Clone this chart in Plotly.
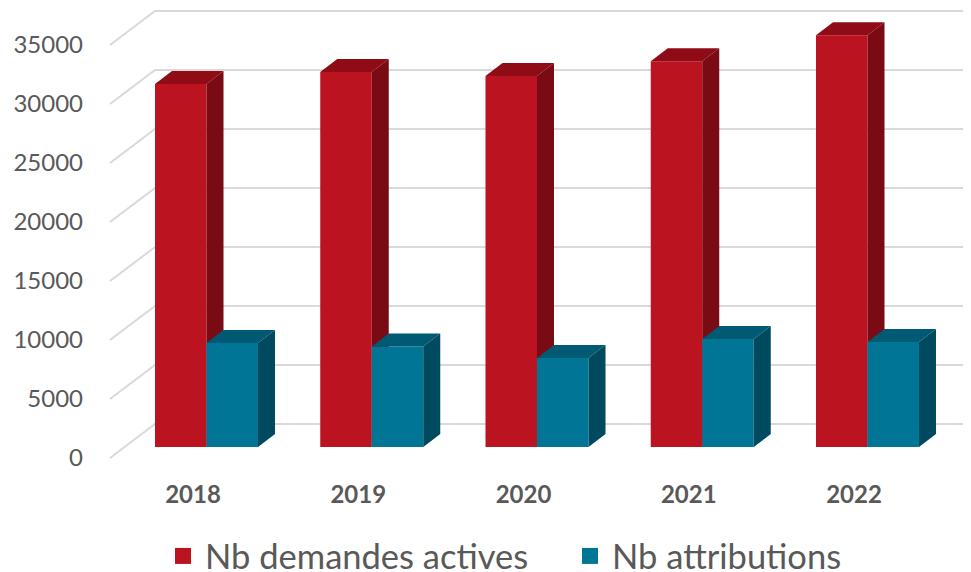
import plotly.graph_objects as go

years = ["2018", "2019", "2020", "2021", "2022"]
demandes = [30760, 31780, 31440, 32700, 34900]
attributions = [8810, 8520, 7540, 9150, 8900]
y_ticks = [0, 5000, 10000, 15000, 20000, 25000, 30000, 35000]

PAGE_W, PAGE_H = 971, 572
BODY = 8                      # the browser's default body margin
W, H = PAGE_W - BODY, PAGE_H - BODY
L, T, B = 88, BODY, 478       # plot rectangle in page pixels
ZERO_PX = 458                 # page y of value 0 on the front wall edge
PX_PER_UNIT = 59 / 5000
STEP = 165.25                 # pixels between categories
CENTER0 = 206.5               # page x of the first category

px_x = lambda p: p / STEP
px_y = lambda p: p / PX_PER_UNIT

bar_w = px_x(51.5)
depth_x, depth_y = px_x(17), px_y(13)
wall_x, wall_y = px_x(45), px_y(34)
floor = px_y(ZERO_PX - 447)
x_min = (L - CENTER0) / STEP
x_max = (PAGE_W - CENTER0) / STEP
grid_front = (110 - CENTER0) / STEP
y_top = (ZERO_PX - T) / PX_PER_UNIT
y_bot = (ZERO_PX - B) / PX_PER_UNIT
xs = list(range(len(years)))


def faces(values, x_off):
    top_x, top_y, side_x, side_y = [], [], [], []
    for i, v in zip(xs, values):
        x0, x1 = i + x_off, i + x_off + bar_w
        t = floor + v
        top_x += [x0, x0 + depth_x, x1 + depth_x, x1, x0, None]
        top_y += [t, t + depth_y, t + depth_y, t, t, None]
        side_x += [x1, x1 + depth_x, x1 + depth_x, x1, x1, None]
        side_y += [floor, floor + depth_y, t + depth_y, t, floor, None]
    return top_x, top_y, side_x, side_y


def poly(x, y, color, z):
    return go.Scatter(x=x, y=y, mode="lines", fill="toself", fillcolor=color,
                      line=dict(width=0, color=color), hoverinfo="skip",
                      showlegend=False, zorder=z)


fig = go.Figure()

gx, gy = [], []
for v in y_ticks:
    gx += [grid_front, grid_front + wall_x, x_max, None]
    gy += [v, v + wall_y, v + wall_y, None]
fig.add_trace(go.Scatter(x=gx, y=gy, mode="lines", line=dict(color="#D9D9D9", width=2),
                         hoverinfo="skip", showlegend=False, zorder=0))

RED, RED_TOP, RED_SIDE = "#BC1320", "#8F0C17", "#7A0A13"
TEAL, TEAL_TOP, TEAL_SIDE = "#007596", "#005A74", "#004A60"

fig.add_trace(go.Bar(x=xs, y=demandes, base=floor, width=bar_w, offset=-bar_w,
                     marker=dict(color=RED, line=dict(width=0)),
                     showlegend=False, zorder=1))
tx, ty, sx, sy = faces(demandes, -bar_w)
fig.add_trace(poly(tx, ty, RED_TOP, 2))
fig.add_trace(poly(sx, sy, RED_SIDE, 2))

fig.add_trace(go.Bar(x=xs, y=attributions, base=floor, width=bar_w, offset=0,
                     marker=dict(color=TEAL, line=dict(width=0)),
                     showlegend=False, zorder=3))
tx, ty, sx, sy = faces(attributions, 0)
fig.add_trace(poly(tx, ty, TEAL_TOP, 4))
fig.add_trace(poly(sx, sy, TEAL_SIDE, 4))

for name, color, lg in (("Nb demandes actives", RED, "legend"), ("Nb attributions", TEAL, "legend2")):
    fig.add_trace(go.Scatter(x=[None], y=[None], mode="markers", name=name, legend=lg,
                             marker=dict(symbol="square", size=16, color=color)))


def legend_at(page_x, page_y):
    return dict(orientation="h",
                xref="container", x=(page_x - BODY) / W, xanchor="left",
                yref="container", y=1 - (page_y - BODY) / H, yanchor="top",
                itemwidth=34,
                font=dict(family="Lato", size=34.5, color="#595959"),
                itemsizing="trace", bgcolor="rgba(0,0,0,0)")


fig.update_layout(
    width=W, height=H, autosize=False, barmode="overlay",
    paper_bgcolor="white", plot_bgcolor="white",
    margin=dict(l=L - BODY, r=0, t=T - BODY, b=PAGE_H - B, pad=0),
    font=dict(family="Lato", color="#595959"),
    xaxis=dict(range=[x_min, x_max], tickmode="array",
               tickvals=[i - px_x(13.5) for i in xs], ticktext=years,
               showgrid=False, zeroline=False, showline=False, ticks="",
               ticklabelstandoff=0,
               tickfont=dict(family="Lato", size=24, color="#595959", weight="bold")),
    yaxis=dict(range=[y_bot, y_top], tickmode="array", tickvals=y_ticks,
               ticktext=[str(v) for v in y_ticks],
               showgrid=False, zeroline=False, showline=False, ticks="",
               ticklabelstandoff=4,
               tickfont=dict(family="Lato", size=24, color="#595959")),
    legend=legend_at(161, 527),
    legend2=legend_at(568, 527),
    hovermode=False,
)
fig.write_html("out.html", config={"displayModeBar": False})
